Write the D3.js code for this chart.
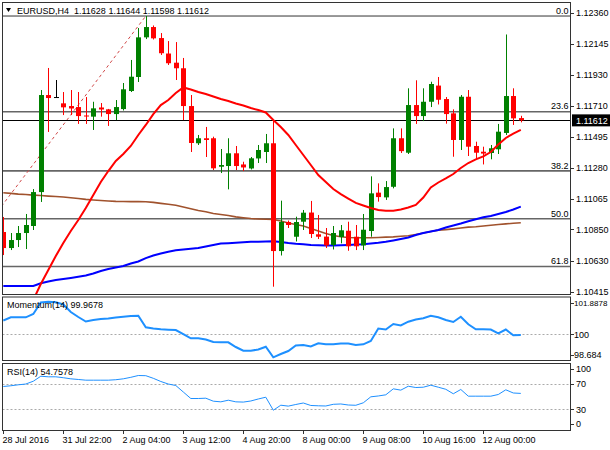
<!DOCTYPE html>
<html><head><meta charset="utf-8">
<script src="https://cdn.jsdelivr.net/npm/d3@7"></script>
<style>
body{margin:0;background:#fff;}
svg{display:block;}
text{font-family:"Liberation Sans",Arial,sans-serif;font-size:9px;fill:#000;}
</style>
</head><body>
<svg id="c" width="610" height="450"></svg>
<script>
// ---------- DATA (EURUSD H4) ----------
const symbolTitle = "EURUSD,H4  1.11628 1.11644 1.11598 1.11612";
const openP  = [1.10832,1.10720,1.10776,1.10825,1.10874,1.11111,1.11789,1.11775,1.11731,1.11712,
                1.11705,1.11646,1.11638,1.11702,1.11689,1.11656,1.11691,1.11817,1.11915,1.12192,
                1.12264,1.12187,1.12079,1.12015,1.11976,1.11712,1.11452,1.11487,1.11487,1.11288,
                1.11293,1.11382,1.11304,1.11276,1.11346,1.11391,1.11452,1.10699,1.10902,1.10799,
                1.10904,1.10968,1.10816,1.10800,1.10741,1.10797,1.10841,1.10799,1.10738,1.10839,
                1.11107,1.11074,1.11148,1.11487,1.11386,1.11719,1.11642,1.11742,1.11855,1.11761,
                1.11661,1.11475,1.11777,1.11433,1.11393,1.11384,1.11410,1.11524,1.11782,1.11628];
const highP  = [1.10937,1.10825,1.10874,1.10958,1.11132,1.11824,1.11978,1.11894,1.11810,1.11824,
                1.11810,1.11775,1.11742,1.11733,1.11692,1.11754,1.11873,1.12034,1.12257,1.12341,
                1.12275,1.12222,1.12166,1.12159,1.12048,1.11789,1.11510,1.11566,1.11498,1.11412,
                1.11487,1.11433,1.11323,1.11356,1.11440,1.11517,1.11614,1.11051,1.10912,1.10939,
                1.10986,1.11049,1.10951,1.10860,1.10874,1.10881,1.10904,1.10881,1.10958,1.11221,
                1.11172,1.11188,1.11556,1.11556,1.11836,1.11892,1.11836,1.11882,1.11915,1.11775,
                1.11689,1.11789,1.11824,1.11463,1.11428,1.11440,1.11587,1.12212,1.11836,1.11644];
const lowP   = [1.10671,1.10706,1.10727,1.10713,1.10846,1.11042,1.11531,1.11770,1.11649,1.11649,
                1.11587,1.11587,1.11545,1.11638,1.11573,1.11614,1.11681,1.11810,1.11880,1.12180,
                1.12177,1.12069,1.11999,1.11894,1.11614,1.11391,1.11440,1.11356,1.11265,1.11244,
                1.11130,1.11265,1.11258,1.11269,1.11314,1.11314,1.10450,1.10668,1.10860,1.10766,
                1.10846,1.10790,1.10783,1.10720,1.10710,1.10753,1.10701,1.10706,1.10706,1.10799,
                1.11044,1.11056,1.11137,1.11384,1.11377,1.11587,1.11607,1.11705,1.11723,1.11589,
                1.11358,1.11405,1.11363,1.11335,1.11304,1.11340,1.11377,1.11510,1.11580,1.11598];
const closeP = [1.10720,1.10776,1.10825,1.10881,1.11111,1.11789,1.11768,1.11775,1.11703,1.11695,
                1.11642,1.11639,1.11696,1.11688,1.11656,1.11705,1.11829,1.11917,1.12192,1.12264,
                1.12185,1.12081,1.12011,1.11976,1.11712,1.11454,1.11487,1.11475,1.11277,1.11300,
                1.11382,1.11293,1.11283,1.11347,1.11405,1.11452,1.10699,1.10902,1.10881,1.10902,
                1.10967,1.10818,1.10799,1.10738,1.10825,1.10844,1.10732,1.10732,1.10848,1.11102,
                1.11076,1.11146,1.11487,1.11397,1.11719,1.11642,1.11742,1.11866,1.11756,1.11656,
                1.11475,1.11777,1.11428,1.11386,1.11380,1.11417,1.11533,1.11782,1.11626,1.11612];
const redMA = [null,null,null,null,
                1.10357,1.10469,1.10566,1.10664,1.10755,1.10839,1.10916,1.11000,1.11090,1.11181,
                1.11258,1.11328,1.11377,1.11433,1.11510,1.11580,1.11656,1.11719,1.11754,1.11803,
                1.11842,1.11828,1.11810,1.11796,1.11779,1.11761,1.11747,1.11730,1.11716,1.11698,
                1.11684,1.11667,1.11615,1.11566,1.11510,1.11440,1.11370,1.11300,1.11230,1.11181,
                1.11132,1.11097,1.11066,1.11035,1.11017,1.11000,1.10986,1.10981,1.10981,1.10989,
                1.11003,1.11021,1.11073,1.11143,1.11178,1.11206,1.11237,1.11279,1.11314,1.11339,
                1.11360,1.11391,1.11443,1.11489,1.11520,1.11545];
const brownMA = [1.11106,1.11102,1.11097,1.11094,1.11090,1.11087,1.11083,1.11080,1.11077,1.11071,
                1.11066,1.11060,1.11056,1.11052,1.11049,1.11046,1.11045,1.11044,1.11044,1.11043,
                1.11039,1.11032,1.11026,1.11019,1.11007,1.10995,1.10982,1.10974,1.10961,1.10954,
                1.10947,1.10938,1.10932,1.10926,1.10923,1.10921,1.10919,1.10909,1.10895,1.10884,
                1.10874,1.10856,1.10839,1.10821,1.10808,1.10799,1.10794,1.10792,1.10792,1.10792,
                1.10794,1.10796,1.10798,1.10802,1.10806,1.10815,1.10825,1.10835,1.10845,1.10849,
                1.10854,1.10860,1.10866,1.10869,1.10874,1.10879,1.10884,1.10889,1.10893,1.10897];
const blueMA = [1.10455,1.10455,1.10455,1.10455,1.10455,1.10474,1.10486,1.10497,1.10504,1.10511,
                1.10519,1.10528,1.10542,1.10560,1.10574,1.10584,1.10595,1.10612,1.10626,1.10650,
                1.10668,1.10682,1.10694,1.10704,1.10710,1.10715,1.10720,1.10731,1.10741,1.10752,
                1.10754,1.10757,1.10760,1.10764,1.10764,1.10766,1.10768,1.10762,1.10755,1.10750,
                1.10747,1.10741,1.10739,1.10738,1.10738,1.10739,1.10741,1.10744,1.10747,1.10752,
                1.10757,1.10764,1.10773,1.10783,1.10794,1.10811,1.10825,1.10835,1.10846,1.10863,
                1.10877,1.10891,1.10907,1.10921,1.10935,1.10944,1.10958,1.10972,1.10989,1.11009];
const momentum = [100.804,100.989,100.989,100.989,101.179,101.842,101.888,101.850,101.727,101.294,
                101.006,100.747,100.833,100.891,100.920,100.977,101.023,101.064,101.081,100.412,
                100.343,100.297,100.274,100.257,100.026,99.778,99.778,99.709,99.565,99.548,
                99.548,99.277,99.064,99.064,99.133,99.294,98.684,98.873,99.046,99.363,
                99.392,99.306,99.490,99.433,99.433,99.479,99.479,99.392,99.433,99.623,
                100.343,100.286,100.603,100.516,100.735,100.862,100.931,101.081,100.989,100.833,
                100.718,101.023,100.585,100.297,100.297,100.286,100.067,100.286,99.950,99.9678];
const rsi = [65.4,66.5,68.0,69.2,73.5,81.2,80.3,80.3,78.9,77.2,
             76.2,75.1,75.1,75.1,75.1,75.8,77.2,79.5,82.3,82.0,
             78.0,73.1,69.2,66.9,56.9,46.9,46.9,47.4,42.8,41.8,
             44.3,41.8,41.4,43.1,46.2,48.9,28.9,36.6,35.2,37.7,
             40.0,36.2,35.7,35.4,38.0,38.5,36.9,36.5,40.3,49.5,
             50.8,52.6,61.8,59.8,65.8,63.8,64.3,67.4,64.3,61.1,
             54.2,60.8,50.5,50.5,50.5,50.5,53.1,60.3,55.4,54.7578];
const priceTicks = [1.12360,1.12145,1.11930,1.11710,1.11495,1.11280,1.11065,1.10850,1.10630,1.10415];
const momTicks = [101.8878,100,98.684];
const momLabels = ["101.8878","100","98.684"];
const rsiTicks = [100,70,30,0];
const rsiLevels = [70,30];
const xTickBars = [0,8,16,24,32,40,48,56,64];
const xTickLabels = ["28 Jul 2016","31 Jul 22:00","2 Aug 04:00","3 Aug 12:00","4 Aug 20:00",
                     "8 Aug 00:00","9 Aug 08:00","10 Aug 16:00","12 Aug 00:00"];
const fibLevels = [0,23.6,38.2,50.0,61.8];
const fibHigh = 1.12341, fibLow = 1.09509, fibHighBar = 19, fibLowBar = -22;
const momLabel = "Momentum(14) 99.9678";
const rsiLabel = "RSI(14) 54.7578";

// ---------- LAYOUT ----------
const svg = d3.select("#c");
svg.append("rect").attr("width",610).attr("height",450).attr("fill","#fff");
const L = 2.5, R = 570.5;
const mainTop = 2.5, mainBot = 294.5;
const momTop = 297, momBot = 360.5;
const rsiTop = 363.5, rsiBot = 430.5;
const n = closeP.length;
const x = d3.scaleLinear().domain([0, n-1]).range([3.3, 3.3 + 7.5*(n-1)]);
const y = d3.scaleLinear().domain([1.10415, 1.12360]).range([291.7, 13.3]);
const ym = d3.scaleLinear().domain([98.684, 101.8878]).range([357.3, 301.7]);
const yr = d3.scaleLinear().domain([0, 100]).range([429, 364]);
const px = v => Math.round(v) + 0.5;

const defs = svg.append("defs");
defs.append("clipPath").attr("id","cm").append("rect").attr("x",L+0.5).attr("y",mainTop+0.5).attr("width",R-L-1).attr("height",mainBot-mainTop-1);
defs.append("clipPath").attr("id","cmo").append("rect").attr("x",L+0.5).attr("y",momTop+0.5).attr("width",R-L-1).attr("height",momBot-momTop-1);
defs.append("clipPath").attr("id","cr").append("rect").attr("x",L+0.5).attr("y",rsiTop+0.5).attr("width",R-L-1).attr("height",rsiBot-rsiTop-1);

// ---------- MAIN PANEL ----------
const gm = svg.append("g").attr("clip-path","url(#cm)");

// Fibonacci levels
const fibRange = fibHigh - fibLow;
fibLevels.forEach(r => {
  const yy = y(fibHigh - r/100*fibRange);
  gm.append("line").attr("x1",L).attr("x2",R).attr("y1",yy).attr("y2",yy)
    .attr("stroke", r===0 ? "#333" : "#666").attr("stroke-width", r===0 ? 1 : 1.6);
  svg.append("text").attr("x",R-2).attr("y",yy-2.2).attr("text-anchor","end").attr("fill","#222").text(r.toFixed(1));
});
// Fibonacci trend (dashed)
gm.append("line").attr("x1",x(fibLowBar)).attr("y1",y(fibLow)).attr("x2",x(fibHighBar)).attr("y2",y(fibHigh))
  .attr("stroke","#d04848").attr("stroke-width",1).attr("stroke-dasharray","3,3");

// current price line
gm.append("line").attr("x1",L).attr("x2",R).attr("y1",px(y(closeP[n-1]))).attr("y2",px(y(closeP[n-1])))
  .attr("stroke","#000").attr("stroke-width",1);

// moving averages
const idx = d3.range(n);
const maLine = arr => d3.line().defined(i => arr[i] !== null).x(i => x(i)).y(i => y(arr[i]));
gm.append("path").attr("d", maLine(brownMA)(idx)).attr("fill","none").attr("stroke","#a0522d").attr("stroke-width",1.6);
gm.append("path").attr("d", maLine(blueMA)(idx)).attr("fill","none").attr("stroke","#0000ff").attr("stroke-width",2);

// candles
const col = i => closeP[i] > openP[i] ? "#008000" : (closeP[i] < openP[i] ? "#ff0000" : "#000");
const cg = gm.append("g");
idx.forEach(i => {
  const cx = px(x(i));
  cg.append("line").attr("x1",cx).attr("x2",cx).attr("y1",y(highP[i])).attr("y2",y(lowP[i]))
    .attr("stroke",col(i)).attr("stroke-width",1);
  const top = y(Math.max(openP[i],closeP[i])), bot = y(Math.min(openP[i],closeP[i]));
  cg.append("rect").attr("x",cx-2.5).attr("width",5).attr("y",top).attr("height",Math.max(1,bot-top))
    .attr("fill",col(i));
});
gm.append("path").attr("d", maLine(redMA)(idx)).attr("fill","none").attr("stroke","#ff0000").attr("stroke-width",2);

// ---------- MOMENTUM ----------
const gmo = svg.append("g").attr("clip-path","url(#cmo)");
gmo.append("line").attr("x1",L).attr("x2",R).attr("y1",px(ym(100))).attr("y2",px(ym(100)))
  .attr("stroke","#aaa").attr("stroke-dasharray","2,2");
gmo.append("path").attr("d", d3.line().x(i=>x(i)).y(i=>ym(momentum[i]))(idx))
  .attr("fill","none").attr("stroke","#1e90ff").attr("stroke-width",2);
svg.append("text").attr("x",7).attr("y",308).attr("fill","#222").text(momLabel);

// ---------- RSI ----------
const gr = svg.append("g").attr("clip-path","url(#cr)");
rsiLevels.forEach(v => {
  gr.append("line").attr("x1",L).attr("x2",R).attr("y1",px(yr(v))).attr("y2",px(yr(v)))
    .attr("stroke","#aaa").attr("stroke-dasharray","2,2");
});
gr.append("path").attr("d", d3.line().x(i=>x(i)).y(i=>yr(rsi[i]))(idx))
  .attr("fill","none").attr("stroke","#1e90ff").attr("stroke-width",1);
svg.append("text").attr("x",7).attr("y",375).attr("fill","#222").text(rsiLabel);

// ---------- FRAMES ----------
[[mainTop,mainBot],[momTop,momBot],[rsiTop,rsiBot]].forEach(([t,b]) => {
  svg.append("rect").attr("x",L).attr("y",t).attr("width",R-L).attr("height",b-t)
    .attr("fill","none").attr("stroke","#333").attr("stroke-width",1);
});

// ---------- RIGHT AXES ----------
const clampY = (v, lo, hi) => Math.max(lo, Math.min(hi, v));
priceTicks.forEach(p => {
  const yy = y(p);
  svg.append("line").attr("x1",R).attr("x2",R+3.5).attr("y1",px(yy)).attr("y2",px(yy)).attr("stroke","#333");
  svg.append("text").attr("x",576).attr("y",yy).attr("dy","0.35em").text(p.toFixed(5));
});
momTicks.forEach((v,k) => {
  const yy = clampY(ym(v), 303, 355);
  svg.append("line").attr("x1",R).attr("x2",R+3.5).attr("y1",px(yy)).attr("y2",px(yy)).attr("stroke","#333");
  svg.append("text").attr("x",574).attr("y",yy).attr("dy","0.35em")
    .style("font-size", momLabels[k].length > 6 ? "8px" : "9px").text(momLabels[k]);
});
rsiTicks.forEach(v => {
  const yy = clampY(yr(v), 369, 424);
  svg.append("line").attr("x1",R).attr("x2",R+3.5).attr("y1",px(yy)).attr("y2",px(yy)).attr("stroke","#333");
  svg.append("text").attr("x",576).attr("y",yy).attr("dy","0.35em").text(String(v));
});

// current price tag
const cy = y(closeP[n-1]);
svg.append("rect").attr("x",572).attr("y",cy-6).attr("width",38).attr("height",12).attr("fill","#000");
svg.append("text").attr("x",576).attr("y",cy).attr("dy","0.35em").style("fill","#fff").text(closeP[n-1].toFixed(5));

// ---------- X AXIS ----------
xTickBars.forEach((b,k) => {
  const xx = px(x(b));
  svg.append("line").attr("x1",xx).attr("x2",xx).attr("y1",rsiBot).attr("y2",rsiBot+3.5).attr("stroke","#333");
  svg.append("text").attr("x",x(b)-0.8).attr("y",442.5).text(xTickLabels[k]);
});

// ---------- TITLE ----------
svg.append("path").attr("d","M6,8 L11,8 L8.5,12 Z").attr("fill","#000");
svg.append("text").attr("x",17).attr("y",13.5).style("white-space","pre").text(symbolTitle);
</script>
</body></html>
